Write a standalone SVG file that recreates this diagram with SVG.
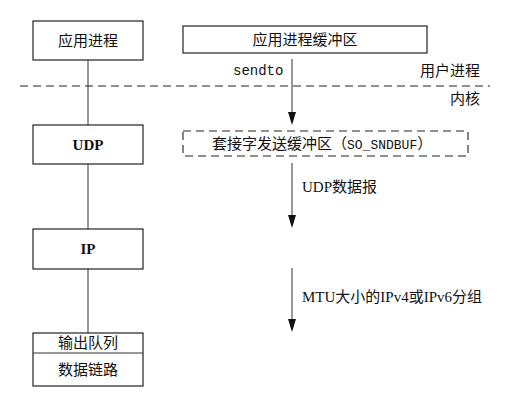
<svg xmlns="http://www.w3.org/2000/svg" width="507" height="401" viewBox="0 0 507 401">
<defs>
<style>
.box{fill:#fff;stroke:#222;stroke-width:1.2}
.dbox{fill:none;stroke:#222;stroke-width:1.1;stroke-dasharray:8 5}
.ln{stroke:#333;stroke-width:1;fill:none}
.ah{fill:#111}
.t{font-family:"Liberation Serif","Noto Sans CJK SC",serif;font-size:15px;fill:#111}
.b{font-weight:bold}
.m{font-family:"Liberation Mono","DejaVu Sans Mono",monospace;fill:#111}
</style>
</defs>
<rect width="507" height="401" fill="#fff"/>
<g id="connectors">
<line class="ln" x1="88" y1="60" x2="88" y2="125"/>
<line class="ln" x1="88" y1="164" x2="88" y2="229"/>
<line class="ln" x1="88" y1="269" x2="88" y2="333"/>
<line x1="20" y1="86" x2="490" y2="86" stroke="#222" stroke-width="1.2" stroke-dasharray="8 5"/>
<line class="ln" x1="292" y1="59" x2="292" y2="112"/>
<path class="ah" d="M288,112 L296,112 L292,125 Z"/>
<line class="ln" x1="292" y1="163" x2="292" y2="215"/>
<path class="ah" d="M288,215 L296,215 L292,228 Z"/>
<line class="ln" x1="292" y1="268" x2="292" y2="319"/>
<path class="ah" d="M288,319 L296,319 L292,332 Z"/>
<text class="m" x="233" y="75" font-size="14">sendto</text>
<text class="t" x="302" y="192">UDP数据报</text>
<text class="t" x="302" y="302">MTU大小的IPv4或IPv6分组</text>
</g>
<g id="app">
<rect class="box" x="33" y="21" width="110" height="39"/>
<text class="t" x="88" y="46" text-anchor="middle">应用进程</text>
</g>
<g id="appbuf">
<rect class="box" x="183" y="26" width="244" height="27"/>
<text class="t" x="305" y="45" text-anchor="middle">应用进程缓冲区</text>
</g>
<g id="labels">
<text class="t" x="480" y="76" text-anchor="end">用户进程</text>
<text class="t" x="480" y="104" text-anchor="end">内核</text>
</g>
<g id="udp">
<rect class="box" x="33" y="125" width="110" height="39"/>
<text class="t b" x="88" y="150" text-anchor="middle">UDP</text>
</g>
<g id="sndbuf">
<rect class="dbox" x="183" y="131" width="285" height="25"/>
<text class="t" x="212" y="149">套接字发送缓冲区（<tspan class="m" font-size="13">SO_SNDBUF</tspan>）</text>
</g>
<g id="ip">
<rect class="box" x="33" y="229" width="110" height="40"/>
<text class="t b" x="88" y="254" text-anchor="middle">IP</text>
</g>
<g id="datalink">
<rect class="box" x="33" y="333" width="110" height="53"/>
<line class="ln" x1="33" y1="353" x2="143" y2="353"/>
<text class="t" x="88" y="348" text-anchor="middle">输出队列</text>
<text class="t" x="88" y="375" text-anchor="middle">数据链路</text>
</g>
</svg>
